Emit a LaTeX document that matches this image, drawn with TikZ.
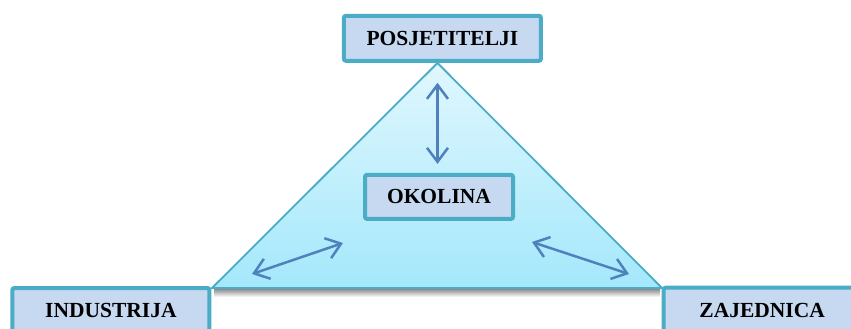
\documentclass[tikz,border=0pt]{standalone}
\usepackage{fontspec}
\setmainfont{Liberation Serif}
\usetikzlibrary{arrows.meta,shadows}
\definecolor{rub}{RGB}{75,172,198}
\definecolor{kutija}{RGB}{198,217,241}
\definecolor{strelica}{RGB}{79,129,189}
\definecolor{vrh}{RGB}{224,247,254}
\definecolor{dno}{RGB}{164,232,251}
\tikzset{
  kut/.style={draw=rub,line width=4pt,fill=kutija,rounded corners=2pt,inner sep=0pt,
    minimum width=197pt,minimum height=45pt,font=\fontsize{21.5}{23}\selectfont\bfseries},
  veza/.style={strelica,line width=2.5pt,{Straight Barb[length=14pt,width=21pt]}-{Straight Barb[length=14pt,width=21pt]}}
}
\begin{document}
\begin{tikzpicture}[x=1pt,y=-1pt]
  \clip (0,0) rectangle (851,329);
  % sjena ispod trokuta
  \shade[top color=black!45,bottom color=white] (214,289) rectangle (660,297);
  % trokut iza kutija
  \path[draw=rub,line width=1.8pt,top color=vrh,bottom color=dno]
    (437.5,63) -- (662,288) -- (212,288) -- cycle;
  \node[kut] (posjetitelji) at (442.4,38.3) {POSJETITELJI};
  \node[kut,minimum width=148pt,minimum height=44pt] (okolina) at (439,196.9) {OKOLINA};
  \node[kut] (industrija) at (110.9,310.5) {INDUSTRIJA};
  \node[kut] (zajednica) at (762.2,310.2) {ZAJEDNICA};
  \coordinate (lijevo) at (252,274);
  \coordinate (lsredina) at (343,243);
  \coordinate (dsredina) at (532,242);
  \coordinate (desno) at (629,274);
  \draw[veza,shorten <=20pt,shorten >=9pt] (posjetitelji.south -| 437.5,0) -- (okolina.north -| 437.5,0);
  \draw[veza] (lijevo) -- (lsredina);
  \draw[veza] (dsredina) -- (desno);
\end{tikzpicture}
\end{document}
